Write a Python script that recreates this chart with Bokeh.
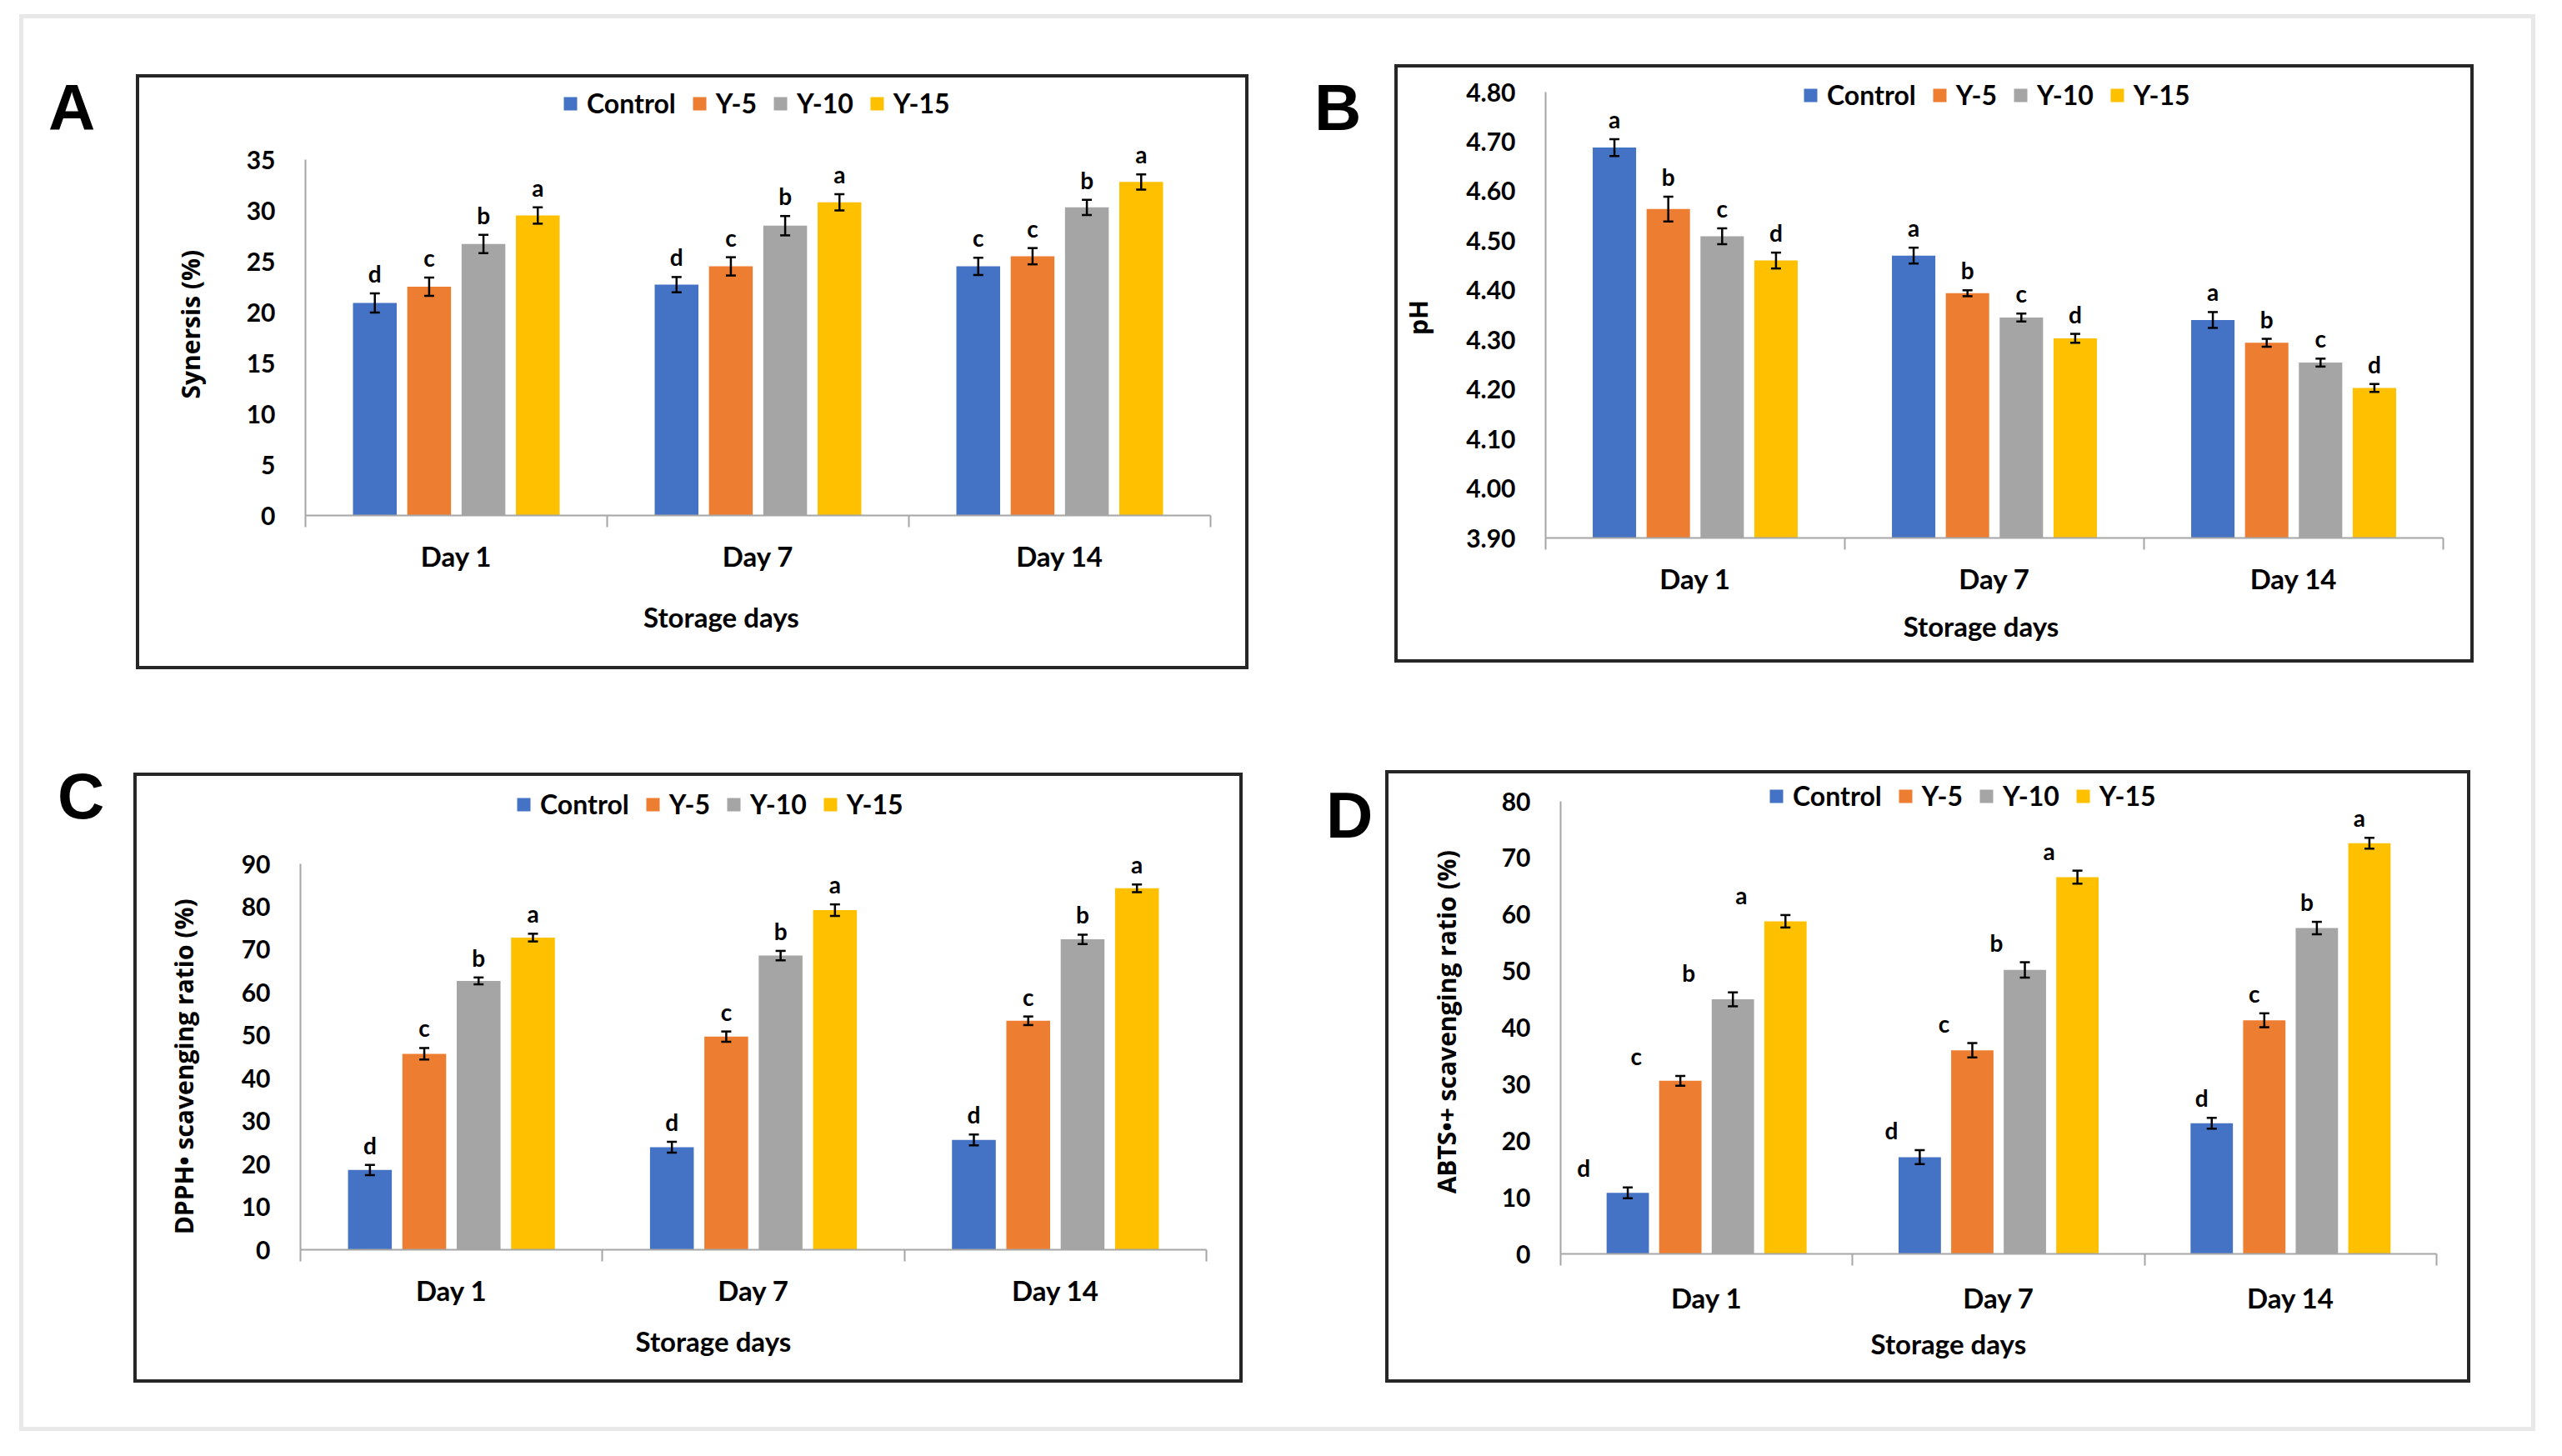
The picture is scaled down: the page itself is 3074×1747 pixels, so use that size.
from bokeh.plotting import figure
from bokeh.models import (ColumnDataSource, Range1d, FixedTicker, Legend, LegendItem,
                          Whisker, TeeHead, Div, NumeralTickFormatter)
from bokeh.layouts import row, column
from bokeh.core.properties import value
from bokeh.embed import file_html
from bokeh.resources import INLINE

# ---------------- data ----------------
days = ["Day 1", "Day 7", "Day 14"]
treatments = ["Control", "Y-5", "Y-10", "Y-15"]
bar_colors = ["#4472C4", "#ED7D31", "#A5A5A5", "#FFC000"]
x_title = "Storage days"

# A: Synersis (%)
syn_control = [20.9, 22.7, 24.5]
syn_y5 = [22.5, 24.5, 25.5]
syn_y10 = [26.7, 28.5, 30.3]
syn_y15 = [29.5, 30.8, 32.8]
syn_err_control = [0.95, 0.75, 0.85]
syn_err_y5 = [0.9, 0.9, 0.8]
syn_err_y10 = [0.9, 0.95, 0.75]
syn_err_y15 = [0.8, 0.8, 0.75]
syn_let_control = ["d", "d", "c"]
syn_let_y5 = ["c", "c", "c"]
syn_let_y10 = ["b", "b", "b"]
syn_let_y15 = ["a", "a", "a"]
syn_ticks = [0, 5, 10, 15, 20, 25, 30, 35]

# B: pH
ph_control = [4.688, 4.470, 4.340]
ph_y5 = [4.564, 4.394, 4.294]
ph_y10 = [4.509, 4.345, 4.254]
ph_y15 = [4.460, 4.303, 4.203]
ph_err_control = [0.017, 0.016, 0.016]
ph_err_y5 = [0.025, 0.006, 0.008]
ph_err_y10 = [0.016, 0.008, 0.008]
ph_err_y15 = [0.016, 0.009, 0.008]
ph_let_control = ["a", "a", "a"]
ph_let_y5 = ["b", "b", "b"]
ph_let_y10 = ["c", "c", "c"]
ph_let_y15 = ["d", "d", "d"]
ph_ticks = [3.90, 4.00, 4.10, 4.20, 4.30, 4.40, 4.50, 4.60, 4.70, 4.80]

# C: DPPH scavenging ratio (%)
dpph_control = [18.6, 23.9, 25.6]
dpph_y5 = [45.7, 49.7, 53.4]
dpph_y10 = [62.7, 68.6, 72.4]
dpph_y15 = [72.8, 79.2, 84.3]
dpph_err_control = [1.2, 1.25, 1.25]
dpph_err_y5 = [1.35, 1.2, 1.0]
dpph_err_y10 = [0.8, 1.1, 1.1]
dpph_err_y15 = [0.9, 1.35, 0.9]
dpph_let_control = ["d", "d", "d"]
dpph_let_y5 = ["c", "c", "c"]
dpph_let_y10 = ["b", "b", "b"]
dpph_let_y15 = ["a", "a", "a"]
dpph_ticks = [0, 10, 20, 30, 40, 50, 60, 70, 80, 90]

# D: ABTS scavenging ratio (%)
abts_control = [10.8, 17.1, 23.1]
abts_y5 = [30.6, 36.0, 41.3]
abts_y10 = [45.0, 50.2, 57.6]
abts_y15 = [58.8, 66.6, 72.6]
abts_err_control = [0.95, 1.23, 0.95]
abts_err_y5 = [0.86, 1.27, 1.23]
abts_err_y10 = [1.23, 1.36, 1.1]
abts_err_y15 = [1.1, 1.15, 0.95]
abts_let_control = ["d", "d", "d"]
abts_let_y5 = ["c", "c", "c"]
abts_let_y10 = ["b", "b", "b"]
abts_let_y15 = ["a", "a", "a"]
abts_ticks = [0, 10, 20, 30, 40, 50, 60, 70, 80]

# ---------------- styling ----------------
AXIS_COLOR = "#a6a6a6"
BOX_COLOR = "#262626"
FONT = "Lato"
YLAB_FONT = "Open Sans"
OFFSETS = [-0.27, -0.09, 0.09, 0.27]
BAR_W = 0.145
NBSP = "\u00a0"   # trailing padding nudges an axis title off-centre, as in the original


def make_panel(series, errors, letters, ticks, ylabel, fmt, box, canvas_y, frame_x,
               y_px, legend_pos, xlab_standoff, ylab_standoff, letter_dx=None,
               margin=(0, 0, 0, 0), xlab_label_standoff=15, xlab_pad=0):
    bx0, by0, bx1, by1 = box
    cy0, cy1 = canvas_y
    cx0, cx1 = bx0, bx1
    W, H = cx1 - cx0, cy1 - cy0
    fl, fr = frame_x
    ybot_px, ytop_px = y_px
    ymin, ymax = ticks[0], ticks[-1]
    scale = (ybot_px - ytop_px) / (ymax - ymin)
    frame_top = cy0 + 8
    yend = ymax + (ytop_px - frame_top) / scale
    box_css = (":host::after { content: ''; position: absolute; "
               f"left: 0px; top: {by0 - cy0}px; right: 0px; bottom: {cy1 - by1}px; "
               f"border: 4px solid {BOX_COLOR}; box-sizing: border-box; "
               "pointer-events: none; z-index: 50; }")
    p = figure(width=W, height=H, x_range=Range1d(0.5, 3.5), y_range=Range1d(ymin, yend),
               output_backend="svg", toolbar_location=None, title=None,
               min_border_left=fl - cx0, min_border_right=cx1 - fr,
               min_border_top=frame_top - cy0, min_border_bottom=cy1 - ybot_px,
               margin=margin, stylesheets=[box_css])
    p.xgrid.visible = False
    p.ygrid.visible = False
    p.outline_line_color = None
    p.background_fill_color = "white"
    p.border_fill_color = "white"

    ax = p.xaxis[0]
    ax.ticker = FixedTicker(ticks=[1, 2, 3], minor_ticks=[0.5, 1.5, 2.5, 3.5])
    ax.major_label_overrides = {i + 1: d for i, d in enumerate(days)}
    ax.major_tick_line_color = None
    ax.major_tick_out = 0
    ax.major_tick_in = 0
    ax.minor_tick_line_color = AXIS_COLOR
    ax.minor_tick_line_width = 2
    ax.minor_tick_out = 14
    ax.minor_tick_in = 0
    ax.axis_line_color = AXIS_COLOR
    ax.axis_line_width = 2
    ax.major_label_text_font = FONT
    ax.major_label_text_font_style = "bold"
    ax.major_label_text_font_size = "33px"
    ax.major_label_text_color = "black"
    ax.major_label_standoff = xlab_label_standoff
    ax.axis_label = x_title + NBSP * xlab_pad
    ax.axis_label_text_font = FONT
    ax.axis_label_text_font_style = "bold"
    ax.axis_label_text_font_size = "33px"
    ax.axis_label_text_color = "black"
    ax.axis_label_standoff = xlab_standoff

    ay = p.yaxis[0]
    ay.ticker = FixedTicker(ticks=ticks)
    ay.bounds = (ymin, ymax)
    if fmt:
        ay.formatter = NumeralTickFormatter(format=fmt)
    ay.major_tick_line_color = None
    ay.minor_tick_line_color = None
    ay.major_tick_out = 0
    ay.major_tick_in = 0
    ay.axis_line_color = AXIS_COLOR
    ay.axis_line_width = 2
    ay.major_label_standoff = 36
    ay.major_label_text_font = FONT
    ay.major_label_text_font_style = "bold"
    ay.major_label_text_font_size = "30px"
    ay.major_label_text_color = "black"
    ay.axis_label = ylabel
    ay.axis_label_text_font = YLAB_FONT
    ay.axis_label_text_font_style = "bold"
    ay.axis_label_text_font_size = "30px"
    ay.axis_label_text_color = "black"
    ay.axis_label_standoff = ylab_standoff

    renderers = []
    for k in range(4):
        vals, errs, lets = series[k], errors[k], letters[k]
        xs = [i + 1 + OFFSETS[k] for i in range(3)]
        dx = letter_dx if letter_dx is not None else [0, 0, 0]
        src = ColumnDataSource(dict(
            x=xs, top=vals,
            upper=[v + e for v, e in zip(vals, errs)],
            lower=[v - e for v, e in zip(vals, errs)],
            letter=lets, dx=dx))
        r = p.vbar(x="x", top="top", bottom=ymin, width=BAR_W, fill_color=bar_colors[k],
                   line_color=None, source=src)
        renderers.append(r)
        w = Whisker(source=src, base="x", upper="upper", lower="lower",
                    line_color="black", line_width=2.5, level="overlay",
                    upper_head=TeeHead(size=12, line_color="black", line_width=2.5),
                    lower_head=TeeHead(size=12, line_color="black", line_width=2.5))
        p.add_layout(w)
        p.text(x="x", y="upper", text="letter", x_offset="dx", y_offset=-7,
               text_align="center", text_baseline="bottom",
               text_font=value(FONT), text_font_style="bold", text_font_size="28px",
               text_color="black", source=src)

    leg_left, leg_center = legend_pos
    legend = Legend(items=[LegendItem(label=t, renderers=[r]) for t, r in zip(treatments, renderers)],
                    orientation="horizontal",
                    location=(leg_left - fl, ybot_px - (leg_center + 19)),
                    border_line_color=None, background_fill_alpha=0,
                    glyph_width=20, glyph_height=20, label_standoff=10, spacing=18,
                    padding=0, margin=0, label_height=20,
                    label_text_font=FONT, label_text_font_style="bold",
                    label_text_font_size="32px", label_text_color="black")
    p.add_layout(legend)
    return p


def letter_div(ch, margin):
    return Div(text=f'<div style="font-family: \'Liberation Sans\'; font-weight: bold; '
                    f'font-size: 78px; line-height: 78px; color: #000;">{ch}</div>',
               width=70, height=84, margin=margin)


# page layout (pixels): root starts at (25, 20); row 1 spans y 20..833, row 2 y 833..1720
pA = make_panel([syn_control, syn_y5, syn_y10, syn_y15],
                [syn_err_control, syn_err_y5, syn_err_y10, syn_err_y15],
                [syn_let_control, syn_let_y5, syn_let_y10, syn_let_y15],
                syn_ticks, "Synersis (%)" + NBSP * 8, None,
                box=(165, 92, 1500, 806), canvas_y=(92, 806),
                frame_x=(368, 1454), y_px=(621, 194),
                legend_pos=(676, 127), xlab_standoff=30, ylab_standoff=44,
                xlab_label_standoff=14, xlab_pad=11,
                margin=(72, 0, 0, 35))
pB = make_panel([ph_control, ph_y5, ph_y10, ph_y15],
                [ph_err_control, ph_err_y5, ph_err_y10, ph_err_y15],
                [ph_let_control, ph_let_y5, ph_let_y10, ph_let_y15],
                ph_ticks, "pH" + NBSP * 4, "0.00",
                box=(1675, 80, 2970, 798), canvas_y=(80, 833),
                frame_x=(1856, 2933), y_px=(648, 113),
                legend_pos=(2164, 117), xlab_standoff=14, ylab_standoff=34,
                xlab_label_standoff=14, xlab_pad=4,
                margin=(60, 74, 0, 26))
pC = make_panel([dpph_control, dpph_y5, dpph_y10, dpph_y15],
                [dpph_err_control, dpph_err_y5, dpph_err_y10, dpph_err_y15],
                [dpph_let_control, dpph_let_y5, dpph_let_y10, dpph_let_y15],
                dpph_ticks, "DPPH\u2022 scavenging ratio (%)" + NBSP * 16, None,
                box=(162, 930, 1493, 1662), canvas_y=(930, 1662),
                frame_x=(362, 1449), y_px=(1502, 1039),
                legend_pos=(620, 968), xlab_standoff=18, ylab_standoff=46,
                xlab_label_standoff=14, xlab_pad=12,
                margin=(97, 0, 58, 21))
pD = make_panel([abts_control, abts_y5, abts_y10, abts_y15],
                [abts_err_control, abts_err_y5, abts_err_y10, abts_err_y15],
                [abts_let_control, abts_let_y5, abts_let_y10, abts_let_y15],
                abts_ticks, "ABTS\u2022+ scavenging ratio (%)" + NBSP * 2, None,
                box=(1664, 927, 2966, 1662), canvas_y=(927, 1667),
                frame_x=(1874, 2925), y_px=(1507, 964),
                legend_pos=(2123, 958), xlab_standoff=12, ylab_standoff=43,
                letter_dx=[-53, -34, -12], xlab_label_standoff=18, xlab_pad=15,
                margin=(94, 78, 0, 1))

top = row(letter_div("A", (73, 0, 0, 35)), pA, letter_div("B", (73, 0, 0, 79)), pB)
bottom = row(letter_div("C", (86, 0, 0, 46)), pC, letter_div("D", (109, 0, 0, 100)), pD)
root = column(top, bottom, margin=(17, 0, 0, 23),
              styles={"outline": "5px solid #e8e8e8", "outline-offset": "-5px"})

open("out.html", "w").write(file_html(root, INLINE))
